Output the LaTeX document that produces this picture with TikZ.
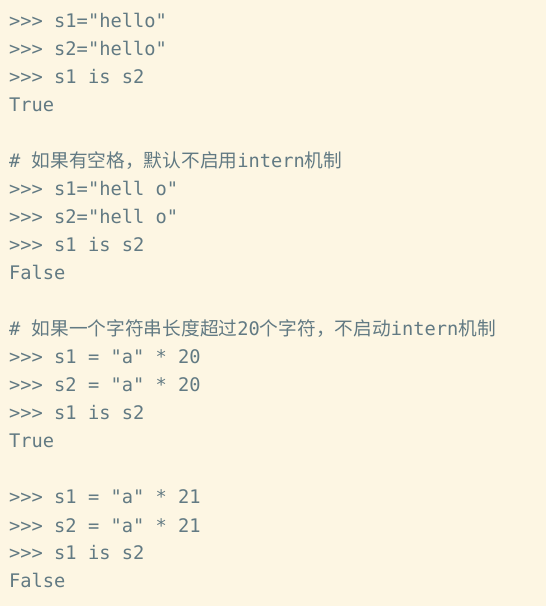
\documentclass[tikz,border=0pt]{standalone}
\usepackage{fontspec}
\setmonofont{DejaVu Sans Mono}
\newfontfamily\cjk{Noto Sans CJK SC}
\definecolor{bgc}{HTML}{FDF6E3}
\definecolor{txc}{HTML}{627A83}
\tikzset{codeline/.style={anchor=base west, inner sep=0pt, text=txc, font=\fontsize{18.7}{22}\ttfamily}}
\begin{document}
\begin{tikzpicture}[x=1pt,y=1pt]
\fill[bgc] (0,0) rectangle (546,606);
\useasboundingbox (0,0) rectangle (546,606);
\node[codeline] (l1) at (9,578) {>{}>{}> s1="hello"};
\node[codeline] (l2) at (9,550) {>{}>{}> s2="hello"};
\node[codeline] (l3) at (9,522) {>{}>{}> s1 is s2};
\node[codeline] (l4) at (9,494) {True};
\node[codeline] (l6) at (9,438) {\# {\cjk 如果有空格，默认不启用}intern{\cjk 机制}};
\node[codeline] (l7) at (9,410) {>{}>{}> s1="hell o"};
\node[codeline] (l8) at (9,382) {>{}>{}> s2="hell o"};
\node[codeline] (l9) at (9,354) {>{}>{}> s1 is s2};
\node[codeline] (l10) at (9,326) {False};
\node[codeline] (l12) at (9,270) {\# {\cjk 如果一个字符串长度超过}20{\cjk 个字符，不启动}intern{\cjk 机制}};
\node[codeline] (l13) at (9,242) {>{}>{}> s1 = "a" * 20};
\node[codeline] (l14) at (9,214) {>{}>{}> s2 = "a" * 20};
\node[codeline] (l15) at (9,186) {>{}>{}> s1 is s2};
\node[codeline] (l16) at (9,158) {True};
\node[codeline] (l18) at (9,102) {>{}>{}> s1 = "a" * 21};
\node[codeline] (l19) at (9,74) {>{}>{}> s2 = "a" * 21};
\node[codeline] (l20) at (9,46) {>{}>{}> s1 is s2};
\node[codeline] (l21) at (9,18) {False};
\end{tikzpicture}
\end{document}
